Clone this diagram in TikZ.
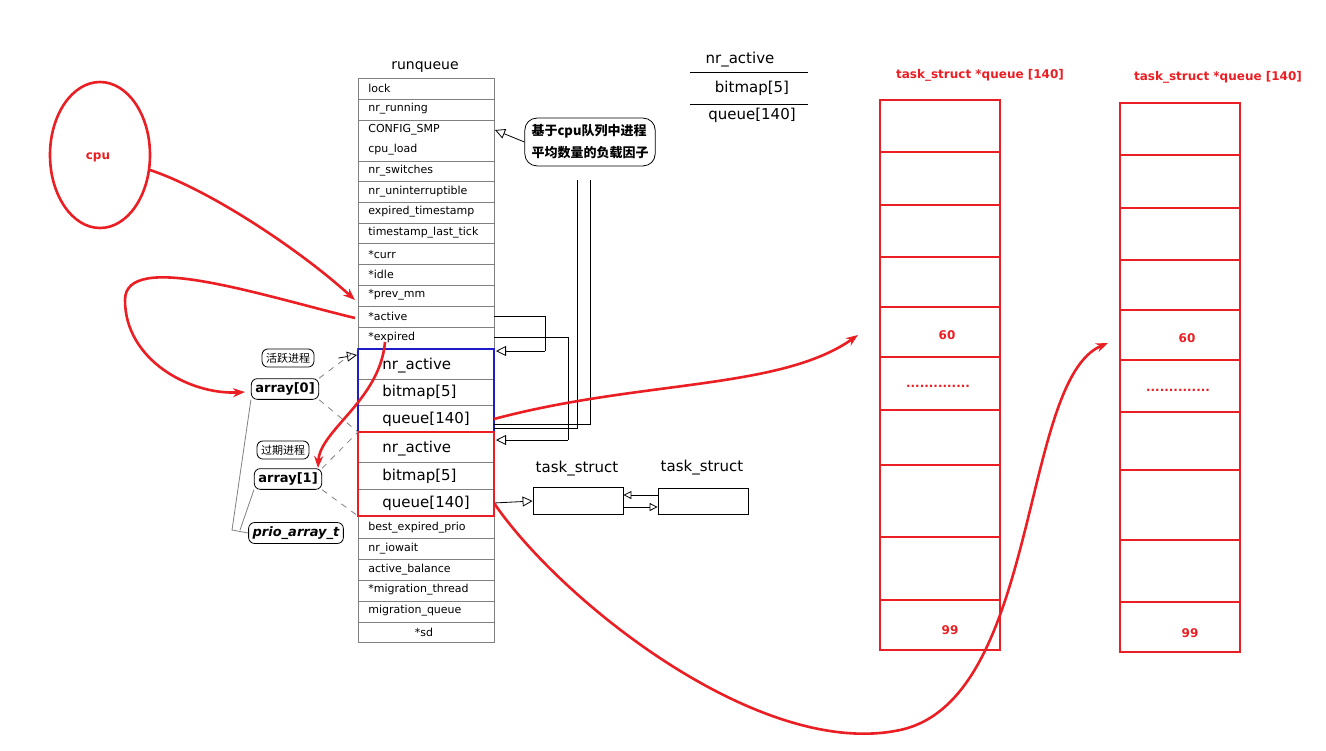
\documentclass[tikz,border=0pt]{standalone}
\usepackage{fontspec}
\setmainfont{DejaVu Sans}
\newfontfamily\cjk{Noto Sans CJK SC}
\usetikzlibrary{arrows.meta,shapes.callouts}
\definecolor{inkred}{RGB}{235,30,35}
\definecolor{boxblue}{RGB}{30,30,200}
\begin{document}
\begin{tikzpicture}[x=0.5pt,y=-0.5pt,
    fld/.style={font=\fontsize{5.5}{6}\selectfont,anchor=west,inner sep=0},
    big/.style={font=\fontsize{7.5}{8}\selectfont,inner sep=0},
    lbl/.style={draw,rounded corners=3pt,font=\fontsize{6.5}{7}\selectfont\bfseries,inner sep=2pt},
    redtxt/.style={font=\fontsize{6}{7}\selectfont\bfseries,text=inkred},
    redpen/.style={inkred,line width=1.3pt},
    hollow/.style={-{Triangle[open,length=5pt,width=5pt]}} ]
  \useasboundingbox (0,0) rectangle (1326,750);
  % runqueue table
  \node[font=\fontsize{7}{8}\selectfont] (rqtitle) at (425,67) {runqueue};
  \draw[gray] (358,78) rectangle (494,642);
  \foreach \y/\t [count=\i] in {88/lock,109/nr\_running,130/CONFIG\_SMP,150/cpu\_load,
      171/nr\_switches,192/nr\_uninterruptible,212/expired\_timestamp,
      233/timestamp\_last\_tick,254/*curr,274/*idle,295/*prev\_mm,316/*active,
      337/*expired,528/best\_expired\_prio,549/nr\_iowait,570/active\_balance,
      590/*migration\_thread,611/migration\_queue}
    \node[fld] (f\i) at (368,\y) {\t};
  \node[fld,anchor=center] (fsd) at (424,632) {*sd};
  \foreach \y in {99,120,161,181,202,223,243,264,285,306,327,538,559,580,601,622}
    \draw[gray] (358,\y) -- (494,\y);
  % prio arrays
  \foreach \y/\t in {366/nr\_active,392/bitmap[5],419/queue[140],449/nr\_active,476/bitmap[5],503/queue[140]}
    \node[big,anchor=west] at (382,\y) {\t};
  \coordinate (qa) at (494,419);
  \coordinate (qe) at (494,503);
  \draw[gray] (358,379) -- (494,379) (358,405) -- (494,405) (358,462) -- (494,462) (358,489) -- (494,489);
  \draw[boxblue,line width=1.1pt] (358,349) rectangle (494,432);
  \draw[inkred,line width=1.1pt] (358,432) rectangle (494,516);
  % legend
  \node[big] (lgA) at (740,60) {nr\_active};
  \node[big] (lgB) at (752,88) {bitmap[5]};
  \node[big] (lgC) at (752,115) {queue[140]};
  \draw (690,72) -- (808,72) (690,104) -- (808,104);
  % callout
  \node[draw,rounded corners=6pt,align=left,font=\cjk\fontsize{6.5}{11}\selectfont\bfseries\itshape] (note) at (590,142) {基于cpu队列中进程\\平均数量的负载因子};
  \draw[hollow] (note.west) -- (495,130);
  \draw (577,180) -- (577,428) -- (494,428) (590,180) -- (590,424) -- (494,424);
  % active/expired links
  \draw (494,316) -- (545,316) -- (545,351);
  \draw[hollow] (545,351) -- (496,351);
  \draw (494,337) -- (568,337) -- (568,440);
  \draw[hollow] (568,440) -- (496,440);
  % task_structs
  \node[big] (tsA) at (577,469) {task\_struct};
  \node[big] (tsB) at (702,468) {task\_struct};
  \node[draw,minimum width=45pt,minimum height=13.5pt] (tA) at (578,501) {};
  \node[draw,minimum width=45pt,minimum height=13pt] (tB) at (703,501) {};
  \draw[hollow] (qe) -- (tA.west);
  \draw[-{Triangle[open,length=4pt,width=4pt]}] ([yshift=-3pt]tA.east) -- ([yshift=-3pt]tB.west);
  \draw[-{Triangle[open,length=4pt,width=4pt]}] ([yshift=3pt]tB.west) -- ([yshift=3pt]tA.east);
  % left labels
  \node[lbl,font=\cjk\fontsize{5.5}{6}\selectfont] (act) at (288,358) {活跃进程};
  \node[lbl] (arr0) at (285,389) {array[0]};
  \node[lbl,font=\cjk\fontsize{5.5}{6}\selectfont] (exp) at (283,450) {过期进程};
  \node[lbl] (arr1) at (288,479) {array[1]};
  \node[lbl,font=\fontsize{6.5}{7}\selectfont\bfseries\itshape] (prio) at (296,533) {prio\_array\_t};
  \draw[hollow] (act.east) ++(12pt,0) -- (357,355);
  \draw[dashed,gray] (arr0.north east) -- (358,349) (arr0.south east) -- (358,432)
    (arr1.north east) -- (358,432) (arr1.south east) -- (358,516);
  \draw[gray] (arr0.south west) -- (232,530) -- (prio.west) (arr1.south west) -- (240,530);
  % task queues
  \foreach \x/\ys in {880/{100,152,205,257,307,357,410,465,537,600,650},
                      1120/{103,155,208,260,310,360,412,470,540,602,652}}{
    \foreach \y in \ys \draw[inkred,line width=1.3pt] (\x,\y) -- (\x+120,\y);
  }
  \draw[inkred,line width=1.3pt] (880,100) rectangle (1000,650) (1120,103) rectangle (1240,652);
  \node[redtxt] (qtA) at (980,75) {task\_struct *queue [140]};
  \node[redtxt] (qtB) at (1218,77) {task\_struct *queue [140]};
  \node[redtxt] (sixA) at (947,335) {60};
  \node[redtxt] (sixB) at (1187,338) {60};
  \node[redtxt] (dotA) at (938,386) {..............};
  \node[redtxt] (dotB) at (1178,390) {..............};
  \node[redtxt] (nnA) at (950,630) {99};
  \node[redtxt] (nnB) at (1190,633) {99};
  \coordinate (qAin) at (858,335);
  \coordinate (qBin) at (1108,343);
  % cpu
  \draw[redpen] (100,155) ellipse (50 and 73);
  \node[redtxt] (cpu) at (98,157) {cpu};
  % red pen strokes
  \draw[redpen,-{Stealth[length=6pt]}] (150,170) .. controls (210,190) and (300,250) .. (355,300);
  \draw[redpen,-{Stealth[length=6pt]}] (355,318) .. controls (260,295) and (125,250) .. (125,300)
     .. controls (125,360) and (190,395) .. (245,392);
  \draw[redpen,-{Stealth[length=6pt]}] (385,342) .. controls (380,400) and (320,430) .. (318,468);
  \draw[redpen,-{Stealth[length=6pt]}] (qa) .. controls (640,380) and (780,390) .. (qAin);
  \draw[redpen,-{Stealth[length=6pt]}] (qe) .. controls (560,600) and (760,760) .. (900,730)
     .. controls (1040,700) and (1020,380) .. (qBin);
\end{tikzpicture}
\end{document}
